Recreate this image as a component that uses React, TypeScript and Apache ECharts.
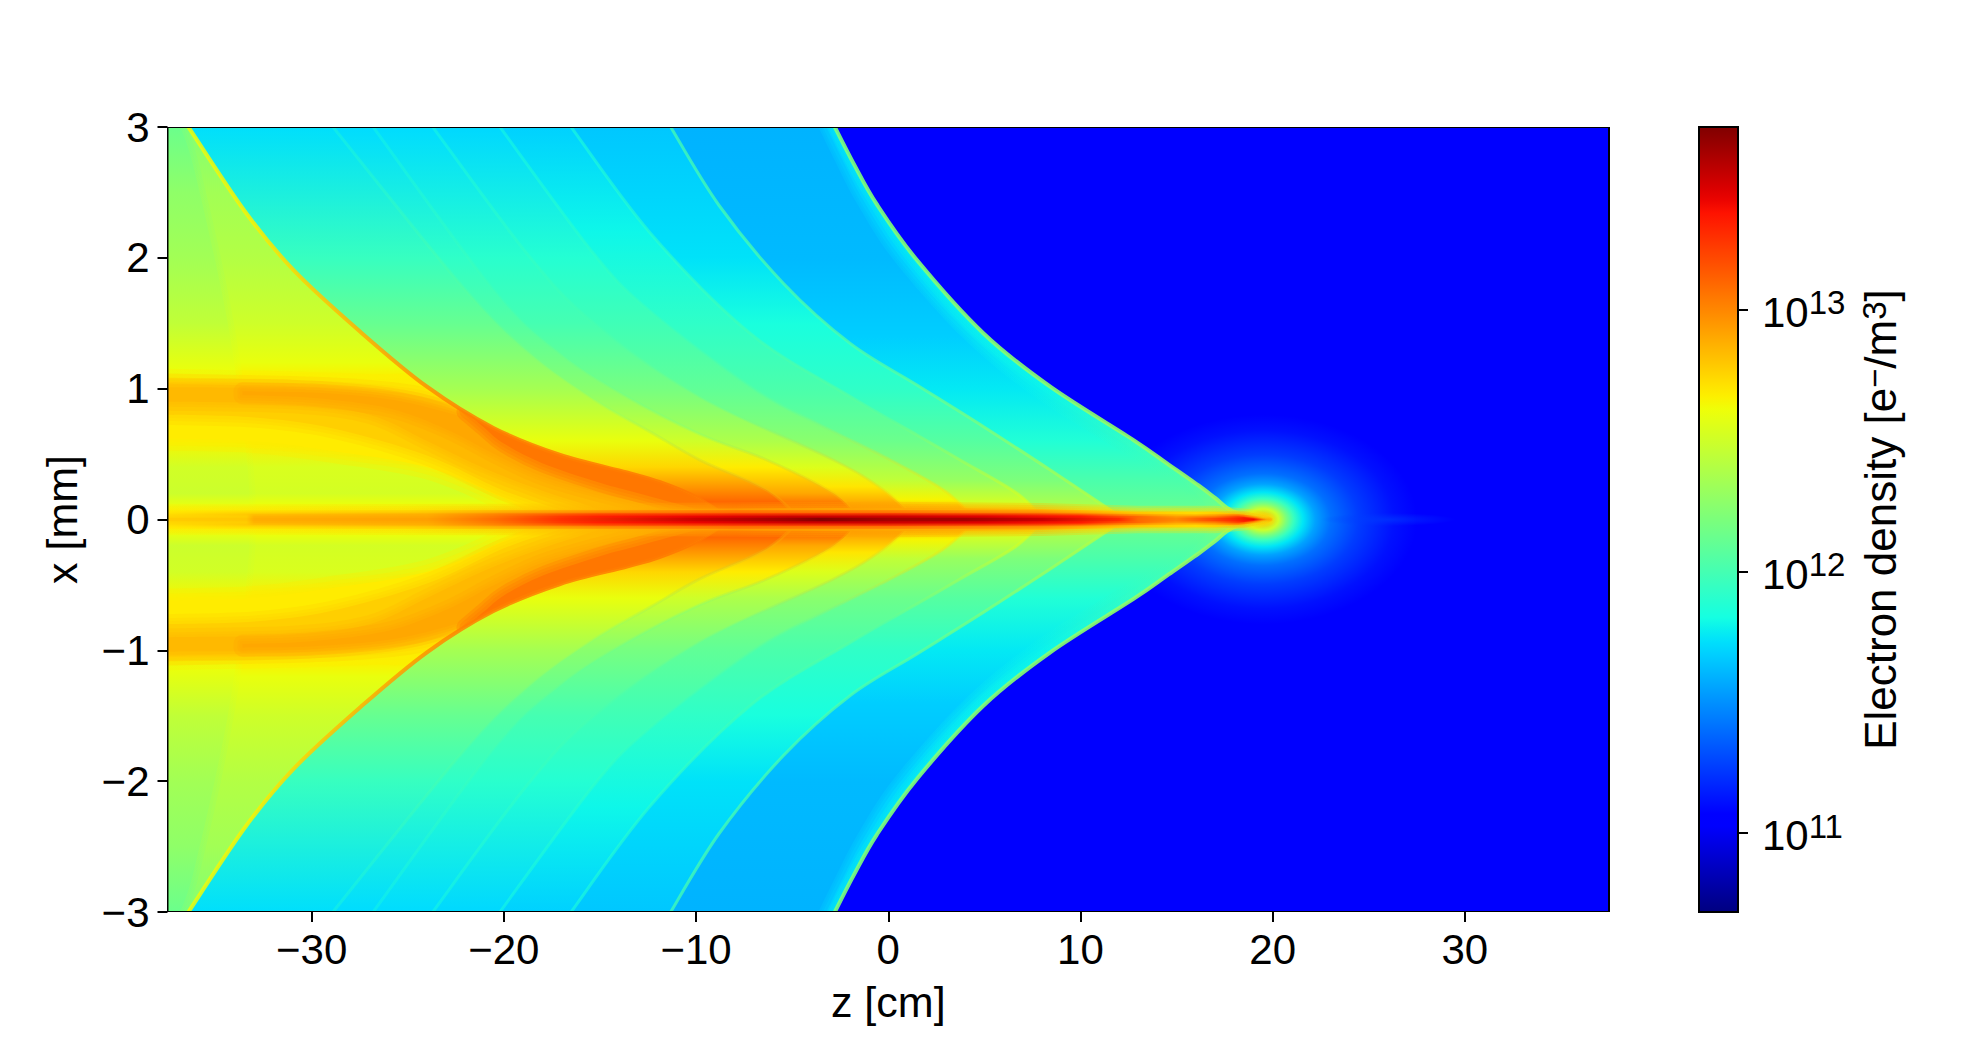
import React, { useEffect, useRef } from "react";
import * as echarts from "echarts";

type P = [number, number];

// Axis ranges and ticks
const zRange: P = [-37.5, 37.5];
const xRange: P = [-3, 3];
const zTicks = [-30, -20, -10, 0, 10, 20, 30];
const xTicks = [-3, -2, -1, 0, 1, 2, 3];
const logMin = Math.log10(5e10);
const logMax = Math.log10(5e13);
const cbTicks = [11, 12, 13];
const background = 11.03;

// Shock fronts: [z cm, x mm], upper half (the field is mirrored about x = 0)
const frontA: P[] = [[-2.85, 3.02], [-1.8, 2.72], [-0.6, 2.41], [1.49, 1.983], [4.96, 1.422], [8.43, 1.015], [12.76, 0.607], [14.5, 0.429], [16.23, 0.251], [17, 0.165], [17.96, 0.06], [19.7, 0]];
const frontA3: P[] = [[-3.2, 3.02], [-2.2, 2.72], [-1, 2.41], [0.95, 1.98], [4.4, 1.41], [7.9, 1.0], [11.5, 0.66], [14.5, 0.38], [16, 0.2], [17.2, 0]];
const frontA2: P[] = [[-3.7, 3.02], [-2.7, 2.72], [-1.6, 2.41], [0.3, 1.98], [3.8, 1.4], [7.2, 0.98], [11, 0.62], [14.5, 0.32], [15.6, 0.18], [16.6, 0]];
const frontB: P[] = [[-11.4, 3.02], [-8.8, 2.4], [-5.45, 1.804], [-1.98, 1.346], [1.49, 1.028], [4.96, 0.709], [8.43, 0.378], [11.03, 0.124], [12.3, 0]];
const frontC: P[] = [[-16.6, 3.02], [-12.385, 2.19], [-7.18, 1.422], [-1.98, 0.939], [1.49, 0.646], [3.74, 0.4545], [6.69, 0.2], [8.08, 0]];
const frontD: P[] = [[-20.3, 3.02], [-15.33, 2.033], [-12.385, 1.59], [-7.18, 1.015], [-3.72, 0.735], [0.1, 0.4545], [2.87, 0.225], [4.6, 0]];
const frontE: P[] = [[-23.8, 3.02], [-18.8, 2.033], [-15.33, 1.5], [-9.78, 0.939], [-2.85, 0.4545], [-0.25, 0.225], [1.5, 0]];
const frontF: P[] = [[-26.9, 3.02], [-20.54, 1.753], [-17.07, 1.27], [-13.6, 0.939], [-9.78, 0.65], [-6.3, 0.4545], [-2.85, 0.2], [-1.46, 0]];
const frontG: P[] = [[-29, 3.02], [-22.27, 1.8], [-18.8, 1.29], [-15.33, 0.92], [-12.385, 0.67], [-9.8, 0.4545], [-6.32, 0.225], [-4.58, 0]];
const frontM: P[] = [[-36.5, 3.02], [-33.5, 2.36], [-30.94, 1.906], [-27.47, 1.435], [-24, 1.015], [-20.54, 0.7], [-17.07, 0.493], [-13.6, 0.36], [-11.87, 0.285], [-10, 0.17], [-8.2, 0]];
const frontLeft: P[] = [[-36.9, 3.02], [-36.1, 2.67], [-34.4, 1.53], [-33.4, 0.5], [-33.2, 0]];

// log10(density) as a function of x between the fronts: [x mm, log10 n]
const levelsA: P[] = [[3, 11.75], [2, 11.76], [1, 11.8], [0.5, 11.96], [0.2, 12.08], [0, 12.2]];
const levelsA3: P[] = [[3, 11.68], [2, 11.7], [1, 11.78], [0.5, 11.94], [0.2, 12.06], [0, 12.18]];
const levelsA2: P[] = [[3, 11.6], [2, 11.62], [1.4, 11.68], [1, 11.76], [0.6, 11.87], [0.3, 12.02], [0, 12.15]];
const levelsB: P[] = [[3, 11.66], [2, 11.74], [1.5, 11.84], [1, 11.92], [0.6, 12.06], [0.3, 12.2], [0.1, 12.38], [0, 12.5]];
const levelsC: P[] = [[3, 11.69], [2.2, 11.8], [1.5, 11.92], [1, 12.02], [0.6, 12.14], [0.3, 12.3], [0.1, 12.55], [0.05, 12.7], [0, 12.8]];
const levelsD: P[] = [[3, 11.71], [2, 11.88], [1.5, 11.98], [1, 12.1], [0.6, 12.25], [0.3, 12.45], [0.15, 12.65], [0.08, 12.85], [0, 13]];
const levelsE: P[] = [[3, 11.72], [2, 11.9], [1.5, 12], [1, 12.18], [0.6, 12.38], [0.4, 12.55], [0.25, 12.7], [0.12, 12.9], [0, 13.1]];
const levelsF: P[] = [[3, 11.72], [2, 11.92], [1.5, 12.05], [1, 12.25], [0.6, 12.5], [0.4, 12.68], [0.2, 12.9], [0.1, 13.1], [0, 13.2]];
const levelsG: P[] = [[3, 11.73], [2, 11.95], [1.5, 12.12], [1, 12.35], [0.6, 12.6], [0.4, 12.75], [0.25, 12.95], [0.1, 13.15], [0, 13.25]];
const levelsM: P[] = [[3, 12.22], [2.5, 12.34], [2, 12.4], [1.5, 12.5], [1.2, 12.6], [1.1, 12.66], [0.6, 12.68], [0.4, 12.54], [0.2, 12.52], [0.12, 12.6], [0, 12.7]];
const levelsLeft: P[] = [[3, 12.14], [2.5, 12.27], [2, 12.34], [1.5, 12.45], [1.15, 12.6], [0.6, 12.65], [0.4, 12.51], [0.2, 12.49], [0.12, 12.58], [0, 12.68]];

// Ridge colours along each front: [z cm, log10 n]
const ridgeA: P[] = [[-3, 12.2], [19, 12.3]];
const ridgeB: P[] = [[-12, 12.0], [0, 12.05], [12, 12.45]];
const ridgeC: P[] = [[-17, 11.85], [0, 12.1], [8, 12.6]];
const ridgeD: P[] = [[-20, 11.85], [-5, 12.1], [4, 12.7]];
const ridgeE: P[] = [[-24, 11.85], [-8, 12.15], [1, 12.75]];
const ridgeF: P[] = [[-27, 11.85], [-10, 12.25], [-2, 12.85]];
const ridgeG: P[] = [[-28, 11.9], [-14, 12.3], [-5, 12.9]];
const ridgeM: P[] = [[-37, 12.6], [-33, 12.66], [-30, 12.78], [-26, 12.92], [-22, 13.02], [-8, 13.05]];

// Contours of the bright band that runs from x = 1 into the axis
const bandYellowTop: P[] = [[-37.5, 1.06], [-31, 1.04], [-27, 1.02], [-24, 1.0], [-20.54, 0.78], [-17.07, 0.56], [-13.6, 0.42], [-10, 0.22], [-8.2, 0]];
const bandYellowLow: P[] = [[-18, 0], [-20, 0.16], [-24, 0.4], [-29.2, 0.53], [-33, 0.6], [-37.5, 0.62]];
const bandGoldTop: P[] = [[-37.5, 1.04], [-31, 1.02], [-27, 0.99], [-24, 0.93], [-21.5, 0.77], [-19, 0.6], [-16, 0.44], [-13, 0.3], [-10.5, 0.17], [-8.2, 0]];
const bandGoldLow: P[] = [[-16, 0], [-17, 0.07], [-20, 0.22], [-24, 0.49], [-29, 0.7], [-33, 0.78], [-37.5, 0.8]];
const bandOrangeTop: P[] = [[-37.5, 1.01], [-31, 1.0], [-26, 0.94], [-23, 0.84], [-20.5, 0.68], [-18, 0.53], [-15, 0.37], [-12, 0.25], [-9.5, 0.1], [-8.2, 0]];
const bandOrangeLow: P[] = [[-14, 0], [-15.5, 0.1], [-18, 0.22], [-21, 0.39], [-24, 0.6], [-27, 0.8], [-31, 0.88], [-37.5, 0.9]];
const bandDeepTop: P[] = [[-33.6, 0.98], [-30, 0.97], [-26, 0.92], [-23, 0.82], [-20.54, 0.7], [-17.07, 0.493], [-13.6, 0.36], [-11.87, 0.285], [-10, 0.17], [-8.2, 0.02]];
const bandDeepLow: P[] = [[-8.2, 0.01], [-10, 0.05], [-13, 0.13], [-15, 0.2], [-18, 0.33], [-20.5, 0.5], [-23, 0.69], [-26, 0.85], [-30, 0.93], [-33.6, 0.95]];
const bandHotTop: P[] = [[-22, 0.825], [-20.54, 0.7], [-17.07, 0.493], [-13.6, 0.36], [-11.87, 0.285], [-10, 0.17], [-8.2, 0.02]];
const bandHotLow: P[] = [[-8.2, 0.01], [-10, 0.08], [-13, 0.2], [-15, 0.28], [-18, 0.43], [-20, 0.58], [-21, 0.7], [-22, 0.825]];

// Axial filament: half widths [z, x] and density along it [z, log10 n]
const coreOuterW: P[] = [[-37.5, 0.07], [-20, 0.075], [0, 0.09], [8, 0.08], [13, 0.06], [17, 0.06], [19, 0.03], [19.8, 0]];
const coreOuterV: P[] = [[-37.5, 12.68], [-25, 12.72], [-15, 12.85], [-8, 12.95], [8, 12.85], [13, 12.72], [18, 12.72]];
const coreMidW: P[] = [[-37.5, 0.045], [0, 0.05], [12, 0.045], [16, 0.04], [18.5, 0.04], [19.8, 0]];
const coreMidV: P[] = [[-37.5, 12.72], [-33, 12.8], [-24, 12.86], [-20, 13], [-15, 13.15], [-8, 13.2], [0, 13.2], [8, 13.1], [12, 12.9], [16, 12.75], [18, 12.9], [19.6, 12.8]];
const coreInnerW: P[] = [[-37.5, 0.028], [10, 0.03], [14, 0.025], [18.2, 0.025], [19.9, 0]];
const coreInnerV: P[] = [[-37.5, 12.75], [-33.4, 12.78], [-33, 12.86], [-24, 12.9], [-20.5, 13.05], [-17, 13.25], [-15, 13.33], [-10, 13.42], [-5, 13.5], [0, 13.5], [5, 13.45], [10, 13.35], [13, 13.1], [15, 12.95], [17, 13.05], [18.5, 13.3], [19.5, 12.9]];
const coreAxisW: P[] = [[-37.5, 0.012], [18.5, 0.012], [19.9, 0]];
const coreAxisV: P[] = [[-37.5, 12.78], [-33.4, 12.8], [-33, 12.88], [-24, 12.92], [-20.5, 13.08], [-17, 13.28], [-10, 13.5], [-5, 13.62], [-3.5, 13.68], [0, 13.6], [4, 13.6], [8, 13.5], [12, 13.3], [13, 13.1], [15, 13], [18, 13.3], [19, 13.4], [19.7, 12.9]];

// Glow round the head of the wake: radial profile [fraction of the radius, log10 n]
const glowCentre = 19.5;
const glowRadiusZ = 8;
const glowRadiusX = 0.8;
const glowProfile: P[] = [[0, 12.9], [0.1, 12.5], [0.15, 12.2], [0.2, 11.95], [0.26, 11.75], [0.34, 11.55], [0.44, 11.4], [0.62, 11.25], [0.85, 11.12], [1, 11.03]];
// Faint streak ahead of the head: [centre z, half length, half height, log10 n]
const streak = [26, 3.5, 0.05, 11.25];

const interp = (a: number, b: number, c: number, d: number, t: number) => (t <= a ? c : t >= b ? d : c + ((d - c) * (t - a)) / (b - a));
function jet(t: number, alpha = 1): string {
  const pw = (pts: P[]) => {
    for (let i = 1; i < pts.length; i++) if (t <= pts[i][0]) return interp(pts[i - 1][0], pts[i][0], pts[i - 1][1], pts[i][1], t);
    return pts[pts.length - 1][1];
  };
  const r = pw([[0, 0], [0.35, 0], [0.66, 1], [0.89, 1], [1, 0.5]]);
  const g = pw([[0, 0], [0.125, 0], [0.375, 1], [0.64, 1], [0.91, 0], [1, 0]]);
  const b = pw([[0, 0.5], [0.11, 1], [0.34, 1], [0.65, 0], [1, 0]]);
  return `rgba(${Math.round(r * 255)},${Math.round(g * 255)},${Math.round(b * 255)},${alpha})`;
}
const col = (v: number, alpha = 1) => jet((v - logMin) / (logMax - logMin), alpha);

type Layer =
  | { k: "bg" }
  | { k: "glow" }
  | { k: "streak" }
  | { k: "region"; c: P[]; lv: P[]; soft?: number[]; o?: number }
  | { k: "ridge"; c: P[]; lv: P[]; w: number; o: number }
  | { k: "band"; up: P[]; lo: P[]; v: number; soft: number[]; o: number }
  | { k: "core"; w: P[]; lv: P[]; soft: number[]; o?: number }
  | { k: "frame" };

const layers: Layer[] = [
  { k: "bg" },
  { k: "glow" },
  { k: "streak" },
  { k: "region", c: frontA, lv: levelsA },
  { k: "region", c: frontA3, lv: levelsA3, soft: [10, 5] },
  { k: "region", c: frontA2, lv: levelsA2, soft: [14, 8, 4] },
  { k: "ridge", c: frontA, lv: ridgeA, w: 4, o: 0.9 },
  { k: "region", c: frontB, lv: levelsB },
  { k: "ridge", c: frontB, lv: ridgeB, w: 3, o: 0.75 },
  { k: "region", c: frontC, lv: levelsC },
  { k: "ridge", c: frontC, lv: ridgeC, w: 3, o: 0.6 },
  { k: "region", c: frontD, lv: levelsD },
  { k: "ridge", c: frontD, lv: ridgeD, w: 3, o: 0.5 },
  { k: "region", c: frontE, lv: levelsE },
  { k: "ridge", c: frontE, lv: ridgeE, w: 3, o: 0.45 },
  { k: "region", c: frontF, lv: levelsF },
  { k: "ridge", c: frontF, lv: ridgeF, w: 3, o: 0.35 },
  { k: "region", c: frontG, lv: levelsG },
  { k: "ridge", c: frontG, lv: ridgeG, w: 3, o: 0.35 },
  { k: "region", c: frontM, lv: levelsM },
  { k: "region", c: frontLeft, lv: levelsLeft, soft: [12, 6] },
  { k: "band", up: bandYellowTop, lo: bandYellowLow, v: 12.68, soft: [24, 14, 6], o: 0.3 },
  { k: "band", up: bandGoldTop, lo: bandGoldLow, v: 12.77, soft: [20, 12, 6], o: 0.3 },
  { k: "band", up: bandOrangeTop, lo: bandOrangeLow, v: 12.84, soft: [18, 10, 5], o: 0.3 },
  { k: "band", up: bandDeepTop, lo: bandDeepLow, v: 12.9, soft: [18, 10, 5], o: 0.3 },
  { k: "band", up: bandHotTop, lo: bandHotLow, v: 13.05, soft: [18, 12, 6], o: 0.3 },
  { k: "ridge", c: frontM, lv: ridgeM, w: 4, o: 0.85 },
  { k: "core", w: coreOuterW, lv: coreOuterV, soft: [12, 8, 4], o: 0.3 },
  { k: "core", w: coreMidW, lv: coreMidV, soft: [6, 3] },
  { k: "core", w: coreInnerW, lv: coreInnerV, soft: [4, 2] },
  { k: "core", w: coreAxisW, lv: coreAxisV, soft: [2] },
  { k: "frame" },
];

function smooth(pts: number[][], move: boolean): string {
  let d = move ? `M${pts[0][0]} ${pts[0][1]}` : `L${pts[0][0]} ${pts[0][1]}`;
  for (let i = 0; i < pts.length - 1; i++) {
    const p0 = pts[Math.max(i - 1, 0)];
    const p1 = pts[i];
    const p2 = pts[i + 1];
    const p3 = pts[Math.min(i + 2, pts.length - 1)];
    d += `C${p1[0] + (p2[0] - p0[0]) / 6} ${p1[1] + (p2[1] - p0[1]) / 6} ${p2[0] - (p3[0] - p1[0]) / 6} ${p2[1] - (p3[1] - p1[1]) / 6} ${p2[0]} ${p2[1]}`;
  }
  return d;
}
const straight = (pts: number[][], move: boolean) => pts.map((p, i) => `${i === 0 && move ? "M" : "L"}${p[0]} ${p[1]}`).join("");

const softStack = (pathData: string, fill: any, widths: number[] | undefined, o = 0.34) => {
  const out: any[] = (widths || []).map((w) => ({
    type: "path",
    shape: { pathData },
    style: { fill: "none", stroke: fill, lineWidth: w, opacity: o, lineJoin: "round" },
  }));
  out.push({ type: "path", shape: { pathData }, style: { fill } });
  return out;
};

const renderField = (params: any, api: any) => {
  const L = layers[params.dataIndex];
  const c = (z: number, x: number) => api.coord([z, x]);
  const LG = echarts.graphic.LinearGradient as any;
  const RG = echarts.graphic.RadialGradient as any;
  const xGrad = (lv: P[], s: number) => {
    const a = c(0, 3 * s);
    const b = c(0, 0);
    return new LG(a[0], a[1], b[0], b[1], lv.map(([x, v]) => ({ offset: 1 - x / 3, color: col(v) })), true);
  };
  const zGrad = (lv: P[]) => {
    const a = c(zRange[0], 0);
    const b = c(zRange[1], 0);
    return new LG(a[0], a[1], b[0], b[1], lv.map(([z, v]) => ({ offset: (z - zRange[0]) / (zRange[1] - zRange[0]), color: col(v) })), true);
  };
  const regionPath = (curve: P[], s: number) => {
    const pts = curve.map(([z, x]) => c(z, s * x));
    const e1 = c(zRange[0], 0);
    const e2 = c(zRange[0], 3.05 * s);
    return smooth(pts, true) + `L${e1[0]} ${e1[1]}L${e2[0]} ${e2[1]}Z`;
  };
  if (L.k === "bg" || L.k === "frame") {
    const a = c(zRange[0], xRange[1]);
    const b = c(zRange[1], xRange[0]);
    const style = L.k === "bg" ? { fill: col(background) } : { fill: "none", stroke: "#000", lineWidth: 2 };
    return { type: "rect", shape: { x: a[0], y: a[1], width: b[0] - a[0], height: b[1] - a[1] }, style };
  }
  if (L.k === "glow") {
    const o = c(glowCentre, 0);
    const r = c(glowCentre + glowRadiusZ, glowRadiusX);
    const rx = r[0] - o[0];
    const ry = o[1] - r[1];
    const fill = new RG(0.5, 0.5, 0.5, glowProfile.map(([f, v]) => ({ offset: f, color: col(v) })));
    return { type: "circle", x: o[0], y: o[1], scaleX: 1, scaleY: ry / rx, shape: { cx: 0, cy: 0, r: rx }, style: { fill } };
  }
  if (L.k === "streak") {
    const o = c(streak[0], 0);
    const r = c(streak[0] + streak[1], streak[2]);
    const rx = r[0] - o[0];
    const ry = o[1] - r[1];
    const fill = new RG(0.5, 0.5, 0.5, [{ offset: 0, color: col(streak[3], 0.6) }, { offset: 1, color: col(streak[3], 0) }]);
    return { type: "circle", x: o[0], y: o[1], scaleX: 1, scaleY: ry / rx, shape: { cx: 0, cy: 0, r: rx }, style: { fill } };
  }
  if (L.k === "core") {
    const up = L.w.map(([z, w]) => c(z, w));
    const lo = L.w.map(([z, w]) => c(z, -w)).reverse();
    return { type: "group", children: softStack(straight(up, true) + straight(lo, false) + "Z", zGrad(L.lv), L.soft, L.o) };
  }
  const children: any[] = [];
  [1, -1].forEach((s) => {
    if (L.k === "region") children.push(...softStack(regionPath(L.c, s), xGrad(L.lv, s), L.soft, L.o));
    else if (L.k === "ridge") {
      const pts = L.c.map(([z, x]) => c(z, s * x));
      children.push({ type: "path", shape: { pathData: smooth(pts, true) }, style: { fill: "none", stroke: zGrad(L.lv), lineWidth: L.w, opacity: L.o } });
    } else if (L.k === "band") {
      const pathData = smooth(L.up.map(([z, x]) => c(z, s * x)), true) + smooth(L.lo.map(([z, x]) => c(z, s * x)), false) + "Z";
      children.push({
        type: "group",
        clipPath: { type: "path", shape: { pathData: regionPath(frontM, s) } },
        children: softStack(pathData, col(L.v), L.soft, L.o),
      });
    }
  });
  return { type: "group", children };
};

const renderBar = (_: any, api: any) => {
  const a = api.coord([0, logMax]);
  const b = api.coord([1, logMin]);
  const stops = [];
  for (let i = 0; i <= 64; i++) stops.push({ offset: i / 64, color: jet(1 - i / 64) });
  return {
    type: "rect",
    shape: { x: a[0], y: a[1], width: b[0] - a[0], height: b[1] - a[1] },
    style: { fill: new (echarts.graphic.LinearGradient as any)(0, 0, 0, 1, stops), stroke: "#000", lineWidth: 2 },
  };
};

const SANS = "'Liberation Sans', Arial, sans-serif";

export default function App() {
  const ref = useRef<HTMLDivElement>(null);
  useEffect(() => {
    const chart = echarts.init(ref.current!, undefined, { renderer: "svg" });
    const tick = { show: true, length: 10, lineStyle: { color: "#000", width: 2 } };
    const line = { show: false, onZero: false };
    const minus = (v: number) => String(v).replace("-", "\u2212");
    chart.setOption({
      animation: false,
      backgroundColor: "#fff",
      grid: [
        { left: 167.5, top: 127, width: 1441.5, height: 785, containLabel: false },
        { left: 1699, top: 127, width: 39, height: 785, containLabel: false },
      ],
      xAxis: [
        {
          gridIndex: 0, type: "value", min: zRange[0], max: zRange[1], name: "z [cm]", nameLocation: "middle", nameGap: 68,
          nameTextStyle: { fontFamily: SANS, fontSize: 43, color: "#000" },
          axisLine: line, splitLine: { show: false },
          axisTick: { ...tick, customValues: zTicks },
          axisLabel: { customValues: zTicks, formatter: minus, fontFamily: SANS, fontSize: 42, color: "#000", margin: 16 },
        },
        { gridIndex: 1, type: "value", min: 0, max: 1, show: false },
      ],
      yAxis: [
        {
          gridIndex: 0, type: "value", min: xRange[0], max: xRange[1], interval: 1, name: "x [mm]", nameLocation: "middle", nameGap: 84,
          nameTextStyle: { fontFamily: SANS, fontSize: 43, color: "#000" },
          axisLine: line, splitLine: { show: false }, axisTick: tick,
          axisLabel: { formatter: minus, fontFamily: SANS, fontSize: 42, color: "#000", margin: 18, customValues: xTicks },
        },
        {
          gridIndex: 1, type: "value", min: logMin, max: logMax, position: "right",
          name: "Electron density [e{s|\u2212}/m{s|3}]", nameLocation: "middle", nameGap: 120, nameRotate: 90,
          nameTextStyle: { fontFamily: SANS, fontSize: 44, color: "#000", rich: { s: { fontFamily: SANS, fontSize: 33, color: "#000", verticalAlign: "top" } } },
          axisLine: line, splitLine: { show: false },
          axisTick: { ...tick, customValues: cbTicks },
          axisLabel: {
            customValues: cbTicks, margin: 24, formatter: (v: number) => `{b|10}{s|${Math.round(v)}}`,
            rich: {
              b: { fontFamily: SANS, fontSize: 42, color: "#000", verticalAlign: "bottom", lineHeight: 47 },
              s: { fontFamily: SANS, fontSize: 33, color: "#000", verticalAlign: "top", lineHeight: 47 },
            },
          },
        },
      ],
      series: [
        { type: "custom", xAxisIndex: 0, yAxisIndex: 0, coordinateSystem: "cartesian2d", clip: true, silent: true, renderItem: renderField, data: layers.map(() => [0, 0]) },
        { type: "custom", xAxisIndex: 1, yAxisIndex: 1, coordinateSystem: "cartesian2d", silent: true, renderItem: renderBar, data: [[0, 12]] },
      ],
    });
    return () => chart.dispose();
  }, []);
  return <div ref={ref} style={{ position: "absolute", left: 0, top: 0, width: 1968, height: 1056, background: "#fff" }} />;
}
